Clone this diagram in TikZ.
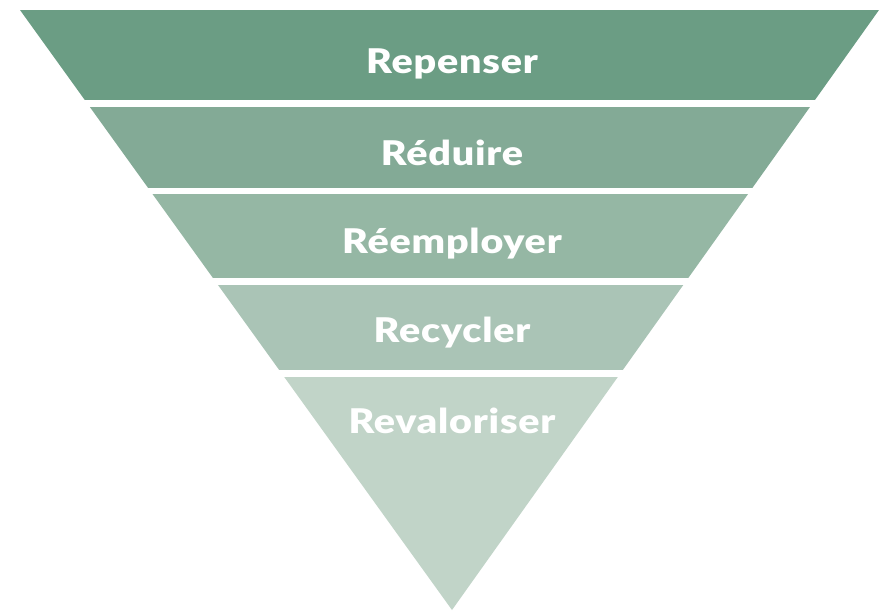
\documentclass[tikz,border=0pt]{standalone}
\usepackage{fontspec}
\setmainfont{DejaVu Sans}
\newfontfamily\heavyfont[LetterSpace=2]{Lato Black}
\definecolor{tierA}{RGB}{107,157,132}
\definecolor{tierB}{RGB}{131,170,150}
\definecolor{tierC}{RGB}{149,183,164}
\definecolor{tierD}{RGB}{170,196,182}
\definecolor{tierE}{RGB}{193,212,200}
\begin{document}
\begin{tikzpicture}[x=1pt,y=-1pt,
        tier/.style={text=white,font=\heavyfont\fontsize{34}{40}\selectfont,xscale=1.16,anchor=base}]
        \useasboundingbox (0,0) rectangle (880,611);
        % inverted triangle, cut into five bands
        \begin{scope}
            \clip (20,10) -- (879,10) -- (452,610) -- cycle;
            \fill[tierA] (0,10) rectangle (880,100);
            \fill[tierB] (0,106.5) rectangle (880,187.5);
            \fill[tierC] (0,194) rectangle (880,278);
            \fill[tierD] (0,284.5) rectangle (880,370);
            \fill[tierE] (0,376.5) rectangle (880,611);
        \end{scope}

        \node[tier] (repenser) at (452,73) {Repenser};
        \node[tier] (reduire) at (452,165) {Réduire};
        \node[tier] (reemployer) at (452,253) {Réemployer};
        \node[tier] (recycler) at (452,342) {Recycler};
        \node[tier] (revaloriser) at (452,433) {Revaloriser};
        % \draw[red] (452,0) -- (452,611);
    \end{tikzpicture}
\end{document}
